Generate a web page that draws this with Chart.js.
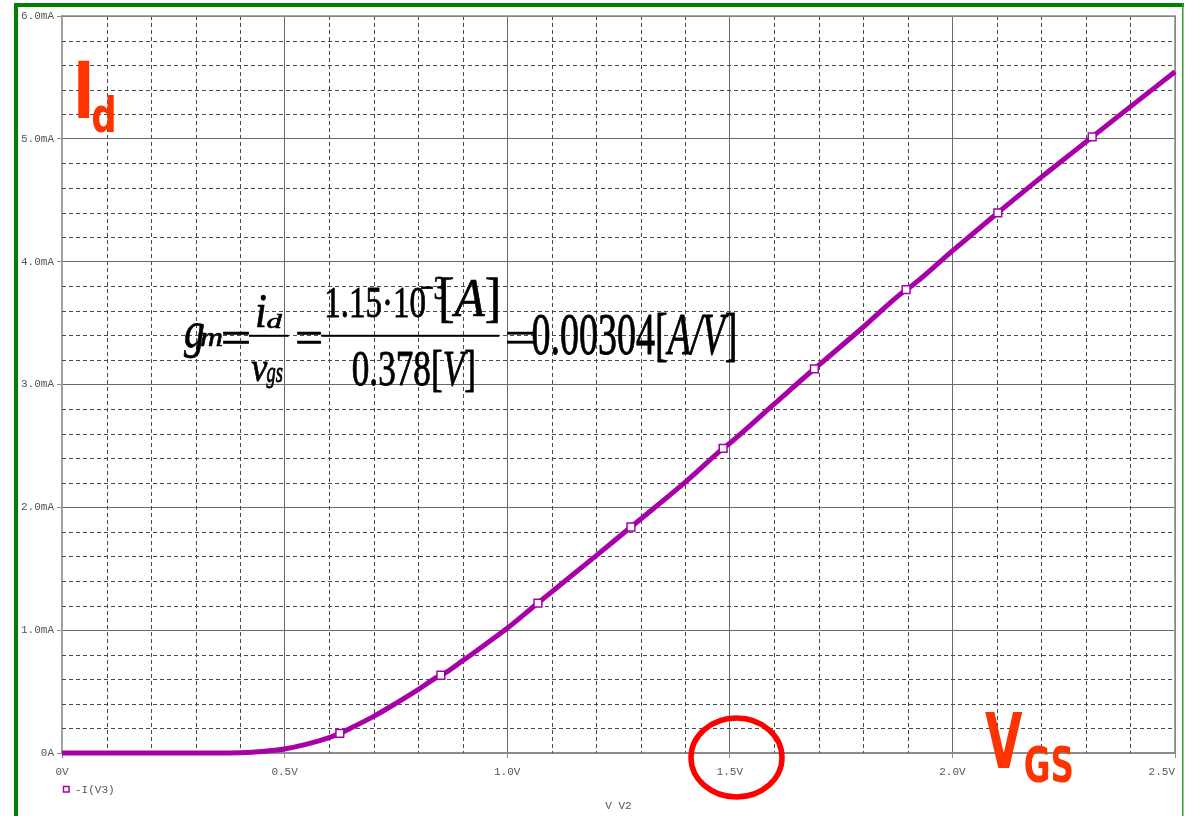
<!DOCTYPE html>
<html>
<head>
<meta charset="utf-8">
<title>-I(V3) vs V V2</title>
<script src="https://cdn.jsdelivr.net/npm/chart.js@4.4.1/dist/chart.umd.min.js"></script>
<style>
  html, body { margin: 0; padding: 0; background: #ffffff; }
  canvas { display: block; }
</style>
</head>
<body>
<canvas id="chart" width="1186" height="816"></canvas>
<script>
// Gate sweep V2 (volts) and drain current -I(V3) (milliamps)
const vgsVolts = [0, 0.1, 0.2, 0.3, 0.35, 0.40, 0.45, 0.50, 0.55, 0.60, 0.65, 0.70, 0.75, 0.80, 0.85, 0.90, 0.95,
                  1.00, 1.10, 1.20, 1.30, 1.40, 1.50, 1.60, 1.70, 1.80, 1.90, 2.00, 2.10, 2.20, 2.30, 2.40, 2.50];
const drainCurrentMA = [0, 0, 0, 0, 0, 0.003, 0.013, 0.033, 0.072, 0.126, 0.205, 0.298, 0.404, 0.516, 0.632, 0.752, 0.882,
                        1.015, 1.312, 1.607, 1.905, 2.205, 2.522, 2.842, 3.158, 3.468, 3.780, 4.088, 4.392, 4.688, 4.975, 5.262, 5.546];

// Trace markers
const markerVolts = [0.624, 0.851, 1.069, 1.278, 1.485, 1.690, 1.896, 2.102, 2.314];
const markerCurrentMA = [0.160, 0.633, 1.221, 1.840, 2.480, 3.128, 3.772, 4.398, 5.016];

const xTickLabels = ['0V', '0.5V', '1.0V', '1.5V', '2.0V', '2.5V'];
const yTickLabels = ['0A', '1.0mA', '2.0mA', '3.0mA', '4.0mA', '5.0mA', '6.0mA'];
const traceLabel = '-I(V3)';
const xAxisTitle = 'V V2';

const TRACE = '#a800a8';
const TICK_GRAY = '#555555';
const MONO = '"Liberation Mono", "DejaVu Sans Mono", monospace';

// curve points, with the marker samples merged in so the trace passes through them
const tracePoints = vgsVolts.map((v, i) => ({ x: v, y: drainCurrentMA[i] }))
  .concat(markerVolts.map((v, i) => ({ x: v, y: markerCurrentMA[i] })))
  .sort((a, b) => a.x - b.x);
const markerPoints = markerVolts.map((v, i) => ({ x: v, y: markerCurrentMA[i] }));

// Draw a run of glyphs stretched so its ink fills the box (x0,y0)-(x1,y1);
// `weight` adds an outline (in device pixels) to thicken the strokes
function inkRun(ctx, parts, x0, y0, x1, y1, color, weight) {
  const size = 100;
  let x = 0, L = Infinity, R = -Infinity, T = Infinity, B = -Infinity;
  const placed = [];
  for (const p of parts) {
    const font = (p.it ? 'italic ' : '') + (p.bold ? 'bold ' : '') + size + 'px ' + (p.fam || '"Liberation Serif", serif');
    ctx.font = font;
    const m = ctx.measureText(p.t);
    L = Math.min(L, x - m.actualBoundingBoxLeft);
    R = Math.max(R, x + m.actualBoundingBoxRight);
    T = Math.min(T, -m.actualBoundingBoxAscent);
    B = Math.max(B, m.actualBoundingBoxDescent);
    placed.push({ font, t: p.t, x });
    x += m.width;
  }
  const sx = (x1 - x0) / (R - L), sy = (y1 - y0) / (B - T);
  ctx.save();
  ctx.translate(x0, y0);
  ctx.scale(sx, sy);
  ctx.translate(-L, -T);
  ctx.fillStyle = color;
  ctx.strokeStyle = color;
  ctx.lineJoin = 'round';
  ctx.lineWidth = (weight || 0) / Math.sqrt(sx * sy);
  ctx.textAlign = 'left';
  ctx.textBaseline = 'alphabetic';
  for (const q of placed) {
    ctx.font = q.font;
    ctx.fillText(q.t, q.x, 0);
    if (weight) ctx.strokeText(q.t, q.x, 0);
  }
  ctx.restore();
}

const R_ = (t) => ({ t });
const I_ = (t) => ({ t, it: true });
const BOLD = (t) => ({ t, bold: true, fam: '"DejaVu Sans", sans-serif' });

// transconductance formula pieces: [parts, x0, y0, x1, y1]
const formulaPieces = [
  [[I_('g')], 184, 323, 204, 358],
  [[I_('m')], 201, 333, 222, 346],
  [[R_('=')], 223, 331.5, 249, 343],
  [[I_('i')], 257, 295, 265.5, 327],
  [[I_('d')], 267.5, 313, 282.3, 328],
  [[I_('v')], 251.6, 361, 267.5, 381],
  [[I_('gs')], 266.4, 368, 282.3, 388],
  [[R_('=')], 297, 331.5, 321, 343],
  [[R_('1.15\u00b710')], 327, 288.3, 425, 318.3],
  [[R_('\u22123')], 421, 277, 445, 300],
  [[R_('['), I_('A'), R_(']')], 441.8, 278, 497.4, 323],
  [[R_('0.378['), I_('V'), R_(']')], 352.8, 350, 473.3, 391.7],
  [[R_('=')], 506.7, 331.5, 534.5, 343],
  [[R_('0.00304['), I_('A/V'), R_(']')], 532.6, 313.3, 734.7, 361.7]
];
const fractionBars = [[249, 288.6], [321.3, 499.3]];

const decorations = {
  id: 'decorations',
  beforeDraw(chart) {
    const ctx = chart.ctx;
    ctx.save();
    ctx.fillStyle = '#ffffff';
    ctx.fillRect(0, 0, chart.width, chart.height);
    // green window frame
    ctx.fillStyle = '#008000';
    ctx.fillRect(14, 3, 4, 813);
    ctx.fillRect(14, 3, 1170, 4);
    ctx.fillStyle = '#3a9a3a';
    ctx.fillRect(1182, 3, 1.5, 813);
    ctx.restore();
  },
  beforeDatasetsDraw(chart) {
    const { ctx, chartArea: a, scales: { x, y } } = chart;
    ctx.save();
    ctx.strokeStyle = '#4a4a4a';
    ctx.lineWidth = 1;
    ctx.setLineDash([4, 3]);
    ctx.beginPath();
    for (let k = 1; k < 25; k++) {
      if (k % 5 === 0) continue;
      const px = Math.round(x.getPixelForValue(k / 10)) + 0.5;
      ctx.moveTo(px, a.top); ctx.lineTo(px, a.bottom);
    }
    for (let k = 1; k < 30; k++) {
      if (k % 5 === 0) continue;
      const py = Math.round(y.getPixelForValue(k / 5)) + 0.5;
      ctx.moveTo(a.left, py); ctx.lineTo(a.right, py);
    }
    ctx.stroke();
    ctx.setLineDash([]);
    // top and right edges of the plot box
    ctx.strokeStyle = '#8c8c8c';
    ctx.lineWidth = 1.5;
    ctx.beginPath();
    ctx.moveTo(a.left, a.top); ctx.lineTo(a.right, a.top); ctx.lineTo(a.right, a.bottom);
    ctx.stroke();
    ctx.restore();
  },
  afterDraw(chart) {
    const ctx = chart.ctx;
    ctx.save();
    // formula
    for (const [parts, x0, y0, x1, y1] of formulaPieces) inkRun(ctx, parts, x0, y0, x1, y1, '#000000', 0.7);
    ctx.fillStyle = '#000000';
    for (const [b0, b1] of fractionBars) ctx.fillRect(b0, 334.8, b1 - b0, 2);

    // axis annotations
    inkRun(ctx, [BOLD('I')], 78.3, 61.7, 89.3, 118.3, '#ff3300');
    inkRun(ctx, [BOLD('d')], 92.7, 95, 114, 132.7, '#ff3300');
    inkRun(ctx, [BOLD('V')], 985, 712.7, 1022.3, 768.3, '#ff3300');
    inkRun(ctx, [BOLD('GS')], 1025, 744.3, 1071.7, 782.7, '#ff3300');

    // highlight ring round the 1.5V tick
    ctx.strokeStyle = '#ff0000';
    ctx.lineWidth = 5.5;
    ctx.beginPath();
    ctx.ellipse(736.5, 757.5, 45.5, 39.5, 0, 0, Math.PI * 2);
    ctx.stroke();

    // legend entry
    const ds = chart.data.datasets[0];
    ctx.strokeStyle = ds.borderColor;
    ctx.lineWidth = 1.5;
    ctx.strokeRect(63.5, 786.5, 5.5, 5.5);
    ctx.fillStyle = TICK_GRAY;
    ctx.font = '11px ' + MONO;
    ctx.textBaseline = 'middle';
    ctx.textAlign = 'left';
    ctx.fillText(traceLabel, 75, 790);
    ctx.restore();
  }
};

Chart.defaults.font.family = MONO;
Chart.defaults.font.size = 11;

new Chart(document.getElementById('chart'), {
  type: 'line',
  data: {
    datasets: [
      {
        label: traceLabel,
        data: markerPoints,
        showLine: false,
        pointStyle: 'rect',
        pointRadius: 5.5,
        pointBorderWidth: 1.5,
        borderColor: TRACE,
        pointBorderColor: TRACE,
        pointBackgroundColor: '#ffffff',
        clip: false
      },
      {
        label: traceLabel,
        data: tracePoints,
        borderColor: TRACE,
        borderWidth: 5,
        pointRadius: 0,
        cubicInterpolationMode: 'monotone',
        fill: false,
        clip: 6
      }
    ]
  },
  options: {
    responsive: false,
    animation: false,
    events: [],
    layout: { padding: { top: 16, right: 11, left: 0, bottom: 0 } },
    plugins: { legend: { display: false }, tooltip: { enabled: false } },
    scales: {
      x: {
        type: 'linear',
        min: 0, max: 2.5,
        ticks: {
          stepSize: 0.5, autoSkip: false, maxRotation: 0, padding: 7,
          color: TICK_GRAY, font: { size: 11, family: MONO },
          // the last label is padded so it ends at its tick instead of running off the edge
          callback: (v, i, all) => i === all.length - 1
            ? xTickLabels[i] + ' '.repeat(xTickLabels[i].length)
            : xTickLabels[i]
        },
        grid: { color: '#6a6a6a', lineWidth: 1, tickLength: 5, tickColor: '#8c8c8c' },
        border: { color: '#8c8c8c', width: 2 },
        title: { display: true, text: xAxisTitle, color: TICK_GRAY, font: { size: 11, family: MONO }, padding: { top: 0, bottom: 3 } },
        afterFit: (s) => { s.height = 63; s.paddingLeft = 0; s.paddingRight = 0; }
      },
      y: {
        min: 0, max: 6,
        ticks: {
          stepSize: 1, padding: 3,
          color: TICK_GRAY, font: { size: 11, family: MONO },
          callback: (v, i) => yTickLabels[i]
        },
        grid: { color: '#6a6a6a', lineWidth: 1, tickLength: 5, tickColor: '#8c8c8c' },
        border: { color: '#a0a0a0', width: 2 },
        afterFit: (s) => { s.width = 62; s.paddingTop = 0; s.paddingBottom = 0; }
      }
    }
  },
  plugins: [decorations]
});
</script>
</body>
</html>
